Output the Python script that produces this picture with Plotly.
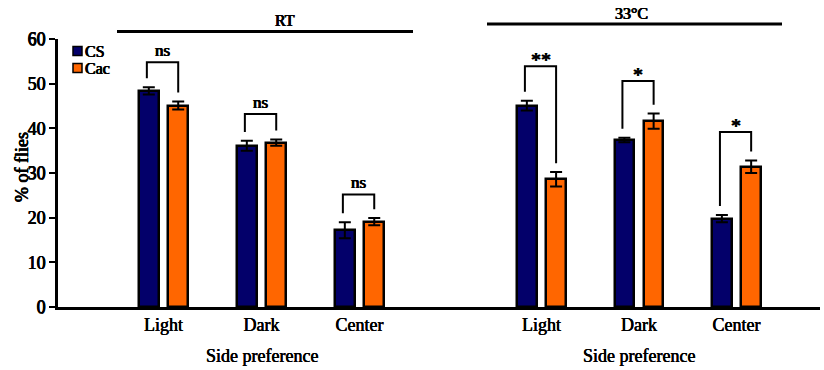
import plotly.graph_objects as go

categories = ["Light", "Dark", "Center"]
groups = ["RT", "33°C"]
series = ["CS", "Cac"]

# RT
rt_cs = [48.4, 36.1, 17.2]
rt_cs_err = [0.8, 1.1, 1.8]
rt_cac = [45.1, 36.8, 19.1]
rt_cac_err = [0.9, 0.7, 0.8]
# 33°C
hot_cs = [45.1, 37.4, 19.8]
hot_cs_err = [1.1, 0.5, 0.8]
hot_cac = [28.6, 41.6, 31.4]
hot_cac_err = [1.6, 1.7, 1.4]

sig_labels_rt = ["ns", "ns", "ns"]
sig_labels_hot = ["**", "*", "*"]
bracket_top_rt = [54.8, 43.2, 25.2]
bracket_top_hot = [53.9, 50.6, 39.2]

y_ticks = [0, 10, 20, 30, 40, 50, 60]

NAVY = "#03006A"
ORANGE = "#FF6600"
FONT = "Liberation Serif"
BOLD = "0.45px 0 0 black, -0.45px 0 0 black, 0 0.3px 0 black"
SEMI = "0.3px 0 0 black, -0.2px 0 0 black"

W, H = 824, 370
L, R, T, B = 58, 4, 39, 63
PW = W - L - R
PH = H - T - B


def px(xp):
    return (xp - L) / PW


def py(yp):
    return (H - B - yp) / PH


def fnt(size, shadow=BOLD):
    return dict(family=FONT, size=size, color="black", shadow=shadow)


split = px(450)
fig = go.Figure()
xpos = list(range(len(categories)))

panels = [
    ("x", "y", rt_cs, rt_cs_err, rt_cac, rt_cac_err),
    ("x2", "y", hot_cs, hot_cs_err, hot_cac, hot_cac_err),
]
for xa, ya, cs, cse, cac, cace in panels:
    for name, vals, errs, col, off in [
        (series[0], cs, cse, NAVY, -0.25),
        (series[1], cac, cace, ORANGE, 0.05),
    ]:
        fig.add_trace(go.Bar(
            x=xpos, y=vals, name=name, xaxis=xa, yaxis=ya,
            width=0.2, offset=off,
            marker=dict(color=col, line=dict(color="black", width=2.5)),
            error_y=dict(type="data", array=errs, symmetric=True,
                         color="black", thickness=2, width=6),
            showlegend=False,
        ))

shapes = []
annotations = []
for xa, cs, cse, cac, cace, tops, labs in [
    ("x", rt_cs, rt_cs_err, rt_cac, rt_cac_err, bracket_top_rt, sig_labels_rt),
    ("x2", hot_cs, hot_cs_err, hot_cac, hot_cac_err, bracket_top_hot, sig_labels_hot),
]:
    for i in range(len(categories)):
        x1 = xpos[i] - 0.17
        x2 = xpos[i] + 0.15
        yb1 = cs[i] + cse[i] + 2
        yb2 = cac[i] + cace[i] + 2
        top = tops[i]
        shapes.append(dict(
            type="path", xref=xa, yref="y",
            path=f"M {x1},{yb1} L {x1},{top} L {x2},{top} L {x2},{yb2}",
            line=dict(color="black", width=2),
        ))
        is_star = labs[i].startswith("*")
        annotations.append(dict(
            x=xpos[i] - 0.01, y=top, xref=xa, yref="y",
            text=labs[i], showarrow=False, yanchor="bottom",
            yshift=-7 if is_star else 0,
            font=fnt(20 if is_star else 17),
        ))
    annotations.append(dict(
        x=1, y=py(356), xref=xa, yref="paper", text="Side preference",
        showarrow=False, yanchor="middle",
        font=fnt(18, SEMI),
    ))

# group header lines and titles
shapes.append(dict(type="line", xref="paper", yref="paper",
                   x0=px(117), x1=px(413), y0=py(31.5), y1=py(31.5),
                   line=dict(color="black", width=3)))
shapes.append(dict(type="line", xref="paper", yref="paper",
                   x0=px(487), x1=px(782), y0=py(24), y1=py(24),
                   line=dict(color="black", width=3)))
annotations.append(dict(x=px(273), y=py(20), xref="paper", yref="paper",
                        text=groups[0], showarrow=False, yanchor="middle",
                        font=fnt(16)))
annotations.append(dict(x=px(650), y=py(13), xref="paper", yref="paper",
                        text=groups[1], showarrow=False, yanchor="middle",
                        font=fnt(16)))

# manual legend
for k, (name, col) in enumerate([(series[0], NAVY), (series[1], ORANGE)]):
    yc = 51 + 17 * k
    shapes.append(dict(type="rect", xref="paper", yref="paper",
                       x0=px(73), x1=px(82), y0=py(yc + 4.5), y1=py(yc - 4.5),
                       fillcolor=col, line=dict(color="black", width=1.5)))
    annotations.append(dict(x=px(83), y=py(yc), xref="paper", yref="paper",
                            text=name, showarrow=False,
                            xanchor="left", yanchor="middle",
                            font=fnt(16)))

# y-axis title
annotations.append(dict(x=px(22), y=py(167), xref="paper", yref="paper",
                        text="% of flies", showarrow=False, textangle=-90,
                        xanchor="center", yanchor="middle",
                        font=fnt(18)))

xaxis_common = dict(
    tickmode="array", tickvals=xpos, ticktext=categories,
    showline=True, linecolor="black", linewidth=2.5, ticks="",
    showgrid=False, zeroline=False, anchor="y",
    tickfont=fnt(18, SEMI),
    fixedrange=True,
)

fig.update_layout(
    width=W, height=H,
    margin=dict(l=L, r=R, t=T, b=B),
    paper_bgcolor="white", plot_bgcolor="white",
    showlegend=False,
    xaxis=dict(domain=[0, split], range=[-1.0765, 2.923], **xaxis_common),
    xaxis2=dict(domain=[split, 1], range=[-0.938, 2.856], **xaxis_common),
    yaxis=dict(range=[0, 60], tickvals=y_ticks,
               showline=True, linecolor="black", linewidth=2.5,
               ticks="outside", ticklen=6, tickwidth=2, tickcolor="black",
               showgrid=False, zeroline=False,
               tickfont=fnt(18)),
    shapes=shapes,
    annotations=annotations,
    bargap=0,
)

fig.write_html("out.html")
